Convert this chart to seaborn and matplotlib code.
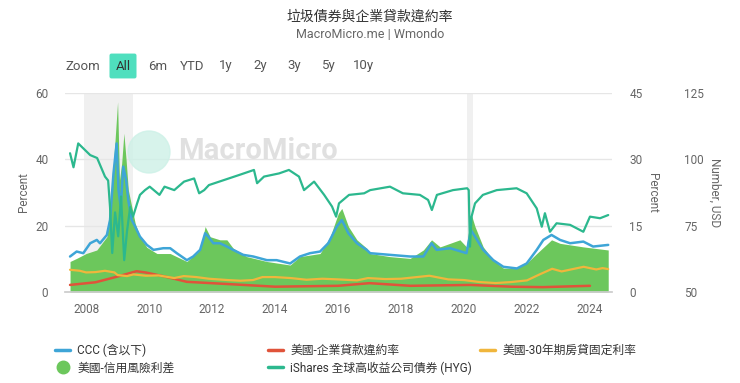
import matplotlib
matplotlib.use("Agg")
import matplotlib.pyplot as plt
import seaborn as sns
import pandas as pd
from matplotlib.lines import Line2D
from matplotlib.patches import Circle

# ---- data (decimal years) ----
ccc_x = [2007.49, 2007.7, 2007.91, 2008.13, 2008.34, 2008.44, 2008.66, 2008.76, 2008.87, 2008.97,
         2009.03, 2009.1, 2009.18, 2009.27, 2009.34, 2009.45, 2009.56, 2009.71, 2009.93, 2010.14,
         2010.45, 2010.67, 2010.88, 2011.2, 2011.4, 2011.62, 2011.78, 2011.88, 2012.04, 2012.25,
         2012.47, 2012.67, 2012.99, 2013.31, 2013.74, 2014.05, 2014.48, 2014.79, 2015.11, 2015.43,
         2015.69, 2015.96, 2016.12, 2016.33, 2016.6, 2016.91, 2017.02, 2017.65, 2018.29, 2018.71,
         2018.97, 2019.13, 2019.56, 2020.08, 2020.22, 2020.35, 2020.61, 2020.93, 2021.25, 2021.68,
         2021.99, 2022.31, 2022.52, 2022.78, 2023.05, 2023.37, 2023.79, 2024.1, 2024.58]
ccc_y = [10.7, 12.2, 11.7, 14.7, 15.7, 14.7, 17.2, 21.7, 35.8, 44.8,
         30.7, 25.7, 37.8, 33.8, 27.7, 21.7, 19.7, 16.7, 14.2, 12.7,
         13.2, 13.2, 11.7, 9.6, 10.7, 12.7, 17.7, 16.7, 14.7, 14.7,
         13.7, 12.7, 11.2, 10.7, 9.6, 9.6, 8.6, 10.7, 11.7, 12.2,
         14.7, 19.7, 21.7, 17.7, 14.7, 12.7, 11.7, 11.2, 10.7, 10.7,
         14.7, 12.7, 13.2, 11.7, 18.7, 16.7, 12.7, 9.6, 7.6, 7.1,
         8.6, 12.7, 15.7, 17.2, 15.7, 14.7, 15.2, 13.7, 14.2]

spread_x = [2007.49, 2007.7, 2008.0, 2008.34, 2008.66, 2008.82, 2008.92, 2009.0, 2009.06, 2009.13,
            2009.2, 2009.27, 2009.34, 2009.45, 2009.56, 2009.71, 2009.93, 2010.25, 2010.67, 2011.2,
            2011.62, 2011.78, 2011.94, 2012.25, 2012.47, 2012.67, 2013.1, 2013.74, 2014.48, 2014.79,
            2015.43, 2015.75, 2016.01, 2016.12, 2016.33, 2016.6, 2016.91, 2017.02, 2017.65, 2018.29,
            2018.71, 2018.97, 2019.24, 2019.87, 2020.08, 2020.22, 2020.35, 2020.61, 2020.93, 2021.25,
            2021.68, 2021.99, 2022.31, 2022.78, 2023.05, 2023.79, 2024.58]
spread_y = [6.9, 7.6, 8.7, 9.5, 12.5, 23.8, 34.4, 43.0, 25.3, 29.1,
            35.9, 29.9, 23.1, 19.3, 15.5, 12.5, 10.1, 8.7, 8.7, 6.9,
            9.5, 14.8, 12.5, 11.8, 11.8, 9.9, 8.0, 6.9, 6.1, 8.0,
            8.7, 12.5, 17.8, 18.9, 14.8, 11.8, 9.9, 8.7, 8.0, 7.6,
            9.5, 11.8, 10.2, 11.8, 10.2, 17.8, 14.8, 10.2, 7.2, 5.4,
            5.4, 6.5, 8.7, 11.8, 11.0, 10.2, 9.5]

loan_x = [2007.49, 2008.3, 2009.0, 2009.6, 2009.9, 2010.5, 2011.2, 2012.5, 2014.0, 2016.0,
          2017.0, 2018.3, 2020.2, 2021.5, 2022.5, 2024.0]
loan_y = [1.6, 2.2, 3.5, 4.7, 4.4, 3.5, 2.3, 1.8, 1.2, 1.4,
          2.0, 1.4, 1.6, 1.2, 1.1, 1.4]

mort_x = [2007.49, 2007.8, 2008.0, 2008.3, 2008.6, 2008.9, 2009.0, 2009.3, 2009.5, 2009.9,
          2010.3, 2010.8, 2011.1, 2011.5, 2011.9, 2012.5, 2012.9, 2013.3, 2013.6, 2014.0,
          2014.5, 2015.0, 2015.5, 2016.0, 2016.6, 2016.95, 2017.5, 2018.0, 2018.9, 2019.5,
          2020.0, 2020.5, 2021.0, 2021.5, 2022.0, 2022.4, 2022.8, 2023.1, 2023.8, 2024.2,
          2024.4, 2024.58]
mort_y = [6.7, 6.4, 5.9, 6.0, 6.4, 5.9, 5.1, 4.8, 5.3, 4.9,
          5.0, 4.2, 4.8, 4.5, 4.0, 3.6, 3.4, 3.6, 4.5, 4.5,
          4.2, 3.7, 4.0, 3.8, 3.5, 4.2, 3.9, 4.0, 4.9, 3.8,
          3.6, 3.0, 2.7, 3.0, 3.5, 5.3, 7.0, 6.2, 7.6, 6.8,
          7.2, 6.9]

hyg_x = [2007.49, 2007.6, 2007.75, 2008.13, 2008.35, 2008.6, 2008.7, 2008.76, 2008.83, 2008.92,
         2009.02, 2009.11, 2009.21, 2009.3, 2009.4, 2009.49, 2009.62, 2009.71, 2009.87, 2010.02,
         2010.33, 2010.49, 2010.8, 2011.11, 2011.43, 2011.59, 2011.75, 2011.9, 2012.38, 2012.86,
         2013.33, 2013.43, 2013.65, 2014.13, 2014.44, 2014.76, 2014.92, 2015.24, 2015.56, 2015.81,
         2015.94, 2016.03, 2016.35, 2016.83, 2017.02, 2017.65, 2018.06, 2018.6, 2018.86, 2018.98,
         2019.14, 2019.65, 2020.1, 2020.15, 2020.19, 2020.24, 2020.35, 2020.6, 2021.04, 2021.67,
         2021.99, 2022.31, 2022.47, 2022.57, 2022.73, 2022.94, 2023.37, 2023.79, 2024.0, 2024.32,
         2024.58]
hyg_y = [102.3, 97.0, 106.0, 101.6, 100.5, 93.5, 92.0, 82.0, 64.7, 80.0,
         71.0, 86.0, 62.0, 73.0, 82.0, 78.4, 83.4, 86.6, 88.4, 89.7,
         86.6, 89.7, 88.4, 91.6, 92.8, 87.2, 88.4, 90.3, 92.2, 94.1,
         96.0, 91.0, 93.5, 94.7, 96.0, 93.5, 88.4, 91.6, 86.6, 82.2,
         78.4, 83.4, 86.6, 87.2, 88.4, 89.7, 87.2, 86.6, 84.7, 80.9,
         86.6, 88.4, 89.1, 88.4, 67.1, 78.4, 83.4, 86.6, 88.4, 89.1,
         87.2, 81.5, 74.6, 79.7, 72.7, 75.9, 75.3, 72.7, 78.4, 77.8,
         79.0]

recessions = [(2007.94, 2009.49), (2020.11, 2020.29)]
year_ticks = list(range(2008, 2025, 2))

labels = ["CCC (含以下)", "美國-企業貸款違約率", "美國-30年期房貸固定利率",
          "美國-信用風險利差", "iShares 全球高收益公司債券 (HYG)"]
colors = {"ccc": "#3ea5d7", "loan": "#e0533a", "mort": "#f0b63c",
          "spread": "#6cc75c", "hyg": "#2cb88e"}

sns.set_theme(style="white")
FONT = ["Roboto", "Noto Sans CJK TC", "DejaVu Sans"]
plt.rcParams["font.family"] = FONT

fig = plt.figure(figsize=(7.4, 3.83), dpi=100)
ax = fig.add_axes([65 / 740, 1 - 292 / 383, (612 - 65) / 740, (292 - 93) / 383])
ax2 = ax.twinx()
ax3 = ax.twinx()

# layering: ax2 (area, loan) bottom, ax (ccc, mortgage), ax3 (hyg) on top
ax2.set_zorder(1)
ax.set_zorder(2)
ax3.set_zorder(3)
ax.patch.set_visible(False)
ax3.patch.set_visible(False)
ax2.patch.set_facecolor("white")

for a, b in recessions:
    ax2.axvspan(a, b, color="#f0f0f0", zorder=0, lw=0)

ax2.fill_between(spread_x, 0, spread_y, color=colors["spread"], lw=0, zorder=2)
sns.lineplot(x=loan_x, y=loan_y, ax=ax2, color=colors["loan"], lw=1.8, zorder=3, estimator=None, sort=False)
sns.lineplot(x=ccc_x, y=ccc_y, ax=ax, color=colors["ccc"], lw=1.8, estimator=None, sort=False)
sns.lineplot(x=mort_x, y=mort_y, ax=ax, color=colors["mort"], lw=1.6, estimator=None, sort=False)
sns.lineplot(x=hyg_x, y=hyg_y, ax=ax3, color=colors["hyg"], lw=1.6, estimator=None, sort=False)

xmin, xmax = 2007.33, 2024.70
for a in (ax, ax2, ax3):
    a.set_xlim(xmin, xmax)
ax.set_ylim(0, 60)
ax2.set_ylim(0, 45)
ax3.set_ylim(50, 125)
ax.set_yticks([0, 20, 40, 60])
ax2.set_yticks([0, 15, 30, 45])
ax3.set_yticks([50, 75, 100, 125])
ax.set_xticks(year_ticks)
ax.set_xticklabels([str(y) for y in year_ticks])

ax2.grid(axis="y", color="#e6e6e6", lw=1)
ax2.xaxis.grid(False)
ax2.set_axisbelow(True)
ax.grid(False)
ax3.grid(False)

tick_col = "#666666"
for a in (ax, ax2, ax3):
    for s in a.spines.values():
        s.set_visible(False)
ax.spines["bottom"].set_visible(True)
ax.spines["bottom"].set_color("#cccccc")
ax.tick_params(axis="x", colors="#cccccc", length=5, width=1, direction="out",
               labelcolor=tick_col, labelsize=8.5, pad=3)
ax.tick_params(axis="y", length=0, labelcolor=tick_col, labelsize=8.5, pad=12)
ax2.tick_params(axis="y", length=0, labelcolor=tick_col, labelsize=8.5, pad=12.5)
ax3.tick_params(axis="y", length=0, labelcolor=tick_col, labelsize=8.5, pad=52)

ax.set_ylabel("Percent", color=tick_col, fontsize=8.5, labelpad=4)
ax.set_xlabel("")
ax2.set_ylabel("Percent", color=tick_col, fontsize=8.5, rotation=270, labelpad=12)
ax3.set_ylabel("Number, USD", color=tick_col, fontsize=8.5, rotation=270, labelpad=12)

# watermark (circle in inches so it stays round)
fig.patches.append(Circle((1.49, 3.83 - 1.52), 0.21, transform=fig.dpi_scale_trans,
                          color="#cdf1e7", alpha=0.8, zorder=5, figure=fig))
fig.text(178 / 740, 1 - 151 / 383, "MacroMicro", fontsize=21, fontweight="bold",
         color="#d9d9d9", alpha=0.8, va="center", ha="left", zorder=5)

# title & subtitle
fig.text(0.5, 1 - 17 / 383, "垃圾債券與企業貸款違約率", ha="center", va="center",
         fontsize=10, color="#333333")
fig.text(0.5, 1 - 34 / 383, "MacroMicro.me | Wmondo", ha="center", va="center",
         fontsize=9, color="#666666")

# range buttons
btns = [("Zoom", 83), ("All", 123), ("6m", 158), ("YTD", 192), ("1y", 226),
        ("2y", 260), ("3y", 294), ("5y", 329), ("10y", 363)]
for txt, xc in btns:
    kw = {}
    if txt == "All":
        kw["bbox"] = dict(boxstyle="round,pad=0.45,rounding_size=0.15",
                          fc="#4fdfbe", ec="none")
    fig.text(xc / 740, 1 - 66 / 383, txt, ha="center", va="center", fontsize=9.5,
             color="#333333" if txt == "All" else "#555555", **kw)

# legend
h_ccc = Line2D([], [], color=colors["ccc"], lw=2.5)
h_loan = Line2D([], [], color=colors["loan"], lw=2.5)
h_mort = Line2D([], [], color=colors["mort"], lw=2.5)
h_spread = Line2D([], [], color=colors["spread"], marker="o", lw=0, markersize=9)
h_hyg = Line2D([], [], color=colors["hyg"], lw=2.5)
cols = [([h_ccc, h_spread], [labels[0], labels[3]], 55),
        ([h_loan, h_hyg], [labels[1], labels[4]], 268),
        ([h_mort], [labels[2]], 480)]
for hs, ls, xl in cols:
    leg = fig.legend(hs, ls, loc="upper left", bbox_to_anchor=(xl / 740, 1 - 344 / 383),
                     frameon=False, fontsize=8.5, handlelength=1.3, handletextpad=0.6,
                     labelspacing=0.35, borderaxespad=0, borderpad=0)
    for t in leg.get_texts():
        t.set_color("#333333")

fig.savefig("out.png", dpi=100)
